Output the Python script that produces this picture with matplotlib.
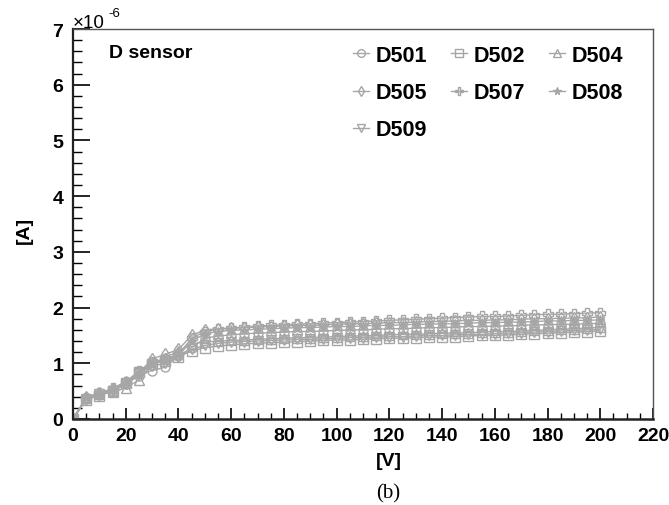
import matplotlib
matplotlib.use("Agg")
import matplotlib.pyplot as plt
from matplotlib.ticker import MultipleLocator

plt.rcParams['font.family'] = ['Liberation Sans', 'DejaVu Sans']

voltage = [0, 5, 10, 15, 20, 25, 30, 35, 40, 45, 50, 55, 60, 65, 70, 75, 80, 85, 90, 95,
           100, 105, 110, 115, 120, 125, 130, 135, 140, 145, 150, 155, 160, 165, 170, 175,
           180, 185, 190, 195, 200]

# currents in units of 1e-6 A
D501 = [0, 0.36, 0.43, 0.50, 0.62, 0.78, 0.87, 0.93, 1.13, 1.28,
        1.45, 1.49, 1.51, 1.53, 1.54, 1.55, 1.56, 1.57, 1.57, 1.58, 1.59, 1.60, 1.60, 1.61, 1.62,
        1.62, 1.63, 1.64, 1.64, 1.65, 1.66, 1.66, 1.67, 1.67, 1.68, 1.69, 1.69, 1.70, 1.70, 1.71, 1.72]
D502 = [0, 0.35, 0.42, 0.50, 0.64, 0.85, 0.98, 1.05, 1.12, 1.22,
        1.28, 1.31, 1.33, 1.35, 1.36, 1.37, 1.38, 1.39, 1.40, 1.41, 1.42, 1.42, 1.43, 1.44, 1.45,
        1.45, 1.46, 1.47, 1.47, 1.48, 1.49, 1.50, 1.50, 1.51, 1.52, 1.53, 1.54, 1.55, 1.56, 1.57, 1.58]
D504 = [0, 0.37, 0.45, 0.48, 0.56, 0.70, 0.98, 1.10, 1.22, 1.35,
        1.38, 1.40, 1.41, 1.42, 1.43, 1.44, 1.45, 1.46, 1.46, 1.47, 1.48, 1.49, 1.49, 1.50, 1.51,
        1.52, 1.52, 1.53, 1.54, 1.54, 1.55, 1.56, 1.57, 1.57, 1.58, 1.59, 1.60, 1.61, 1.62, 1.63, 1.65]
D505 = [0, 0.39, 0.47, 0.54, 0.66, 0.82, 1.08, 1.16, 1.25, 1.50,
        1.60, 1.62, 1.63, 1.64, 1.65, 1.66, 1.67, 1.68, 1.68, 1.69, 1.70, 1.71, 1.71, 1.72, 1.73,
        1.73, 1.74, 1.75, 1.75, 1.76, 1.77, 1.77, 1.78, 1.78, 1.79, 1.80, 1.80, 1.81, 1.81, 1.82, 1.83]
D507 = [0, 0.38, 0.46, 0.55, 0.67, 0.86, 1.02, 1.08, 1.16, 1.45,
        1.57, 1.61, 1.63, 1.65, 1.67, 1.68, 1.69, 1.70, 1.71, 1.72, 1.73, 1.74, 1.75, 1.76, 1.77,
        1.78, 1.79, 1.80, 1.81, 1.82, 1.83, 1.84, 1.84, 1.85, 1.86, 1.87, 1.88, 1.88, 1.89, 1.90, 1.91]
D508 = [0, 0.37, 0.45, 0.53, 0.64, 0.80, 1.00, 1.06, 1.14, 1.40,
        1.53, 1.57, 1.59, 1.60, 1.61, 1.62, 1.63, 1.64, 1.64, 1.65, 1.66, 1.66, 1.67, 1.68, 1.68,
        1.69, 1.70, 1.70, 1.71, 1.71, 1.72, 1.73, 1.73, 1.74, 1.74, 1.75, 1.76, 1.76, 1.77, 1.77, 1.78]
D509 = [0, 0.36, 0.44, 0.51, 0.63, 0.82, 0.95, 1.00, 1.12, 1.25,
        1.32, 1.36, 1.38, 1.39, 1.40, 1.41, 1.42, 1.43, 1.43, 1.44, 1.45, 1.46, 1.46, 1.47, 1.48,
        1.48, 1.49, 1.50, 1.50, 1.51, 1.52, 1.52, 1.53, 1.54, 1.55, 1.56, 1.57, 1.58, 1.59, 1.60, 1.61]

series = [("D501", D501, 'o', 'none'),
          ("D502", D502, 's', 'none'),
          ("D504", D504, '^', 'none'),
          ("D505", D505, 'd', 'none'),
          ("D507", D507, 'P', 'none'),
          ("D508", D508, '*', 'full'),
          ("D509", D509, 'v', 'none')]

W, H = 669, 506
fig = plt.figure(figsize=(W / 100, H / 100), dpi=100)
L, R, T, B = 73, 653, 30, 420
ax = fig.add_axes([L / W, 1 - B / H, (R - L) / W, (B - T) / H])

gray = '#a6a6a6'
handles = {}
for name, vals, mk, fs in series:
    h, = ax.plot(voltage, vals, color=gray, lw=1.0, marker=mk, markersize=6.5,
                 fillstyle=fs, markeredgecolor=gray, markerfacecolor=gray if fs == 'full' else 'none',
                 markeredgewidth=1.0, label=name)
    handles[name] = h

ax.set_xlim(0, 220)
ax.set_ylim(0, 7)
ax.xaxis.set_major_locator(MultipleLocator(20))
ax.xaxis.set_minor_locator(MultipleLocator(5))
ax.yaxis.set_major_locator(MultipleLocator(1))
ax.yaxis.set_minor_locator(MultipleLocator(0.2))
ax.tick_params(axis='x', which='major', direction='in', length=8, width=1.2, pad=6,
               labelsize=14, top=False)
ax.tick_params(axis='x', which='minor', direction='in', length=4.5, width=1.0, top=False)
ax.tick_params(axis='y', which='major', direction='in', length=12, width=1.2, pad=7,
               labelsize=14, right=False)
ax.tick_params(axis='y', which='minor', direction='in', length=6.5, width=1.0, right=False)
for lab in ax.get_xticklabels() + ax.get_yticklabels():
    lab.set_fontweight('bold')
for s in ax.spines.values():
    s.set_linewidth(1.0)
    s.set_color('#555555')
ax.spines['left'].set_linewidth(1.6)
ax.spines['bottom'].set_linewidth(1.8)
ax.spines['left'].set_color('#222222')
ax.spines['bottom'].set_color('#222222')

order = ["D501", "D505", "D509", "D502", "D507", "D504", "D508"]
ax.legend([handles[n] for n in order], order, ncol=3, frameon=False,
          loc='upper left', bbox_to_anchor=(353 / W, 1 - 46 / H),
          bbox_transform=fig.transFigure, borderpad=0, borderaxespad=0,
          prop={'weight': 'bold', 'size': 15.5}, handlelength=0.75,
          handletextpad=0.3, columnspacing=1.1, labelspacing=0.75, markerscale=0.85)

ax.text(109 / W, 1 - 54 / H, "D sensor", transform=fig.transFigure, fontsize=14,
        fontweight='bold', ha='left', va='center')

fig.text(73 / W, 1 - 23 / H, "\u00d710", fontsize=13.5, ha='left', va='center')
fig.text(108 / W, 1 - 14 / H, "-6", fontsize=9.5, ha='left', va='center')

fig.text(24 / W, 1 - 230 / H, "[A]", rotation=90, fontsize=14, fontweight='bold',
         ha='center', va='center')
fig.text(389 / W, 1 - 462 / H, "[V]", fontsize=14, fontweight='bold',
         ha='center', va='center')
fig.text(388 / W, 1 - 494 / H, "(b)", fontsize=15, family=['Liberation Serif', 'DejaVu Serif'],
         ha='center', va='center')

fig.savefig("out.png", dpi=100)
